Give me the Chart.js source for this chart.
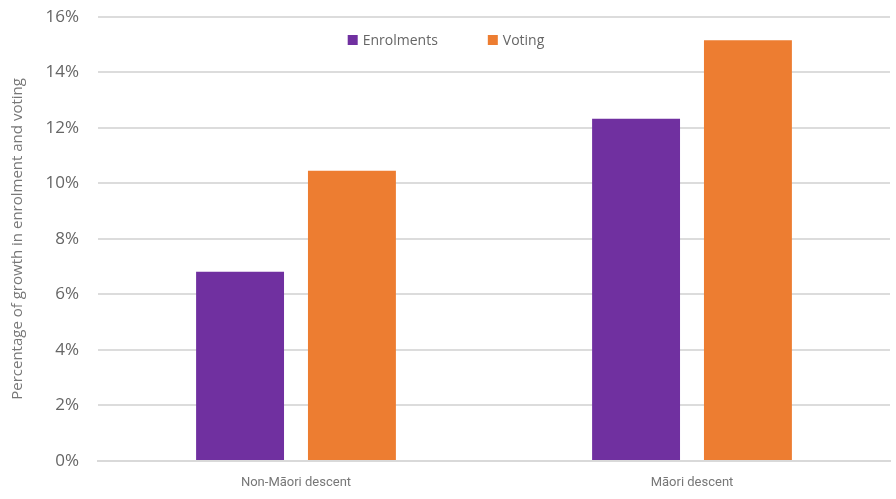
<!DOCTYPE html>
<html>
<head>
<meta charset="utf-8">
<script src="https://cdn.jsdelivr.net/npm/chart.js@4"></script>
<style>
  html, body { margin: 0; padding: 0; background: #fff; }
  #wrap { width: 896px; height: 499px; }
</style>
</head>
<body>
<div id="wrap"><canvas id="myChart" width="896" height="499"></canvas></div>
<script>
var categories = ["Non-Māori descent", "Māori descent"];
var enrolments = [6.82, 12.33];
var voting = [10.46, 15.16];
var yTicks = [0, 2, 4, 6, 8, 10, 12, 14, 16];

// legend drawn inside the plot, centred on the canvas
var insideLegend = {
  id: "insideLegend",
  afterDraw: function (chart) {
    var c = chart.ctx;
    var sets = chart.data.datasets;
    c.save();
    c.font = "14px 'Open Sans'";
    c.textBaseline = "middle";
    var box = 10, gapText = 5, gapItem = 50;
    var total = 0;
    sets.forEach(function (ds, i) {
      total += box + gapText + c.measureText(ds.label).width;
      if (i < sets.length - 1) total += gapItem;
    });
    var x = chart.width / 2 - total / 2 - 2;
    var y = 40;
    sets.forEach(function (ds) {
      c.fillStyle = ds.backgroundColor;
      c.fillRect(x, y - box / 2, box, box);
      x += box + gapText;
      c.fillStyle = "#666";
      c.fillText(ds.label, x, y + 1);
      x += c.measureText(ds.label).width + gapItem;
    });
    c.restore();
  }
};

var ctx = document.getElementById("myChart").getContext("2d");
var myChart = new Chart(ctx, {
  type: "bar",
  data: {
    labels: categories,
    datasets: [
      { label: "Enrolments", data: enrolments, backgroundColor: "#7030A0" },
      { label: "Voting", data: voting, backgroundColor: "#ED7D31" }
    ]
  },
  plugins: [insideLegend],
  options: {
    responsive: false,
    animation: false,
    layout: { padding: { top: 17, right: 6, left: 9, bottom: -5.5 } },
    categoryPercentage: 0.565,
    barPercentage: 0.786,
    plugins: {
      legend: { display: false },
      tooltip: { enabled: false }
    },
    scales: {
      x: {
        grid: { display: false, drawTicks: false },
        border: { color: "#d9d9d9", width: 2 },
        ticks: { color: "#777", padding: 14, font: { family: "Roboto", size: 13 } }
      },
      y: {
        min: 0,
        max: 16,
        afterBuildTicks: function (axis) {
          axis.ticks = yTicks.map(function (v) { return { value: v }; });
        },
        afterFit: function (axis) {
          axis.paddingTop = 0;
          axis.paddingBottom = 0;
          axis.width -= 0.5;
        },
        grid: { color: "#dcdcdc", lineWidth: 2, drawTicks: false },
        border: { display: false },
        ticks: {
          color: "#666",
          padding: 19,
          font: { family: "Open Sans", size: 17 },
          callback: function (v) { return v + "%"; }
        },
        title: {
          display: true,
          text: "Percentage of growth in enrolment and voting",
          color: "#777",
          padding: { top: 0, bottom: 0 },
          font: { family: "Open Sans", size: 15 }
        }
      }
    }
  }
});
</script>
</body>
</html>
